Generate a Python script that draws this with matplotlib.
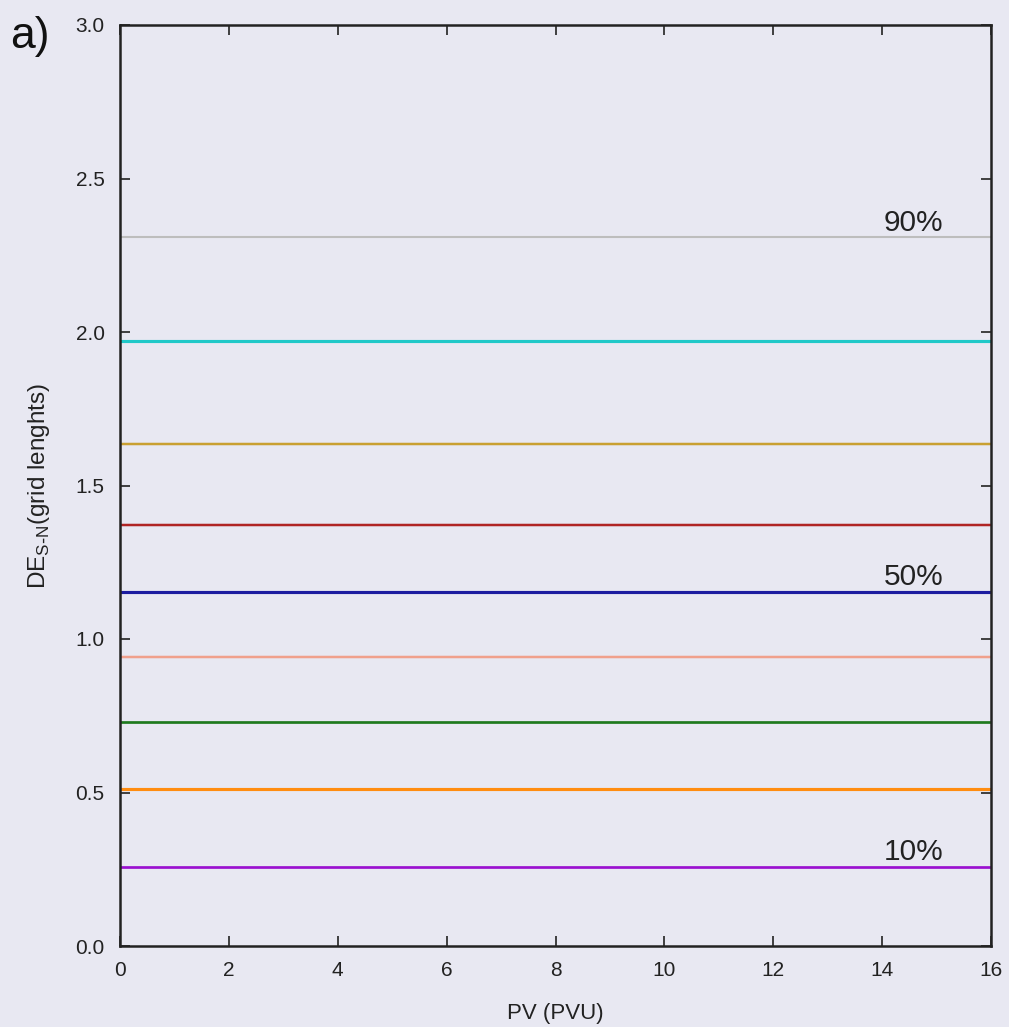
import matplotlib.pyplot as plt
import numpy as np

plt.rcParams["font.family"] = ["Liberation Sans", "DejaVu Sans"]

# percentile levels of DE_S-N, constant across PV
pv_range = [0, 16]
levels = [2.309, 1.971, 1.635, 1.371, 1.153, 0.941, 0.730, 0.511, 0.257]
colors = ["#bdbdbd", "#20c8c8", "#c9a032", "#b02424", "#1c1ca0",
          "#f0a08c", "#1e7a1e", "#ff8c10", "#9a10d0"]
widths = [2.0, 3.0, 2.4, 2.4, 3.0, 2.4, 2.6, 3.0, 2.6]
labels = {"90%": 2.309, "50%": 1.153, "10%": 0.257}

bg = "#e8e8f2"
fig = plt.figure(figsize=(10.09, 10.27), dpi=100, facecolor=bg)
ax = fig.add_axes([120 / 1009, 1 - 946 / 1027, 871 / 1009, 921 / 1027])
ax.set_facecolor(bg)

for lev, c, w in zip(levels, colors, widths):
    ax.plot(pv_range, [lev, lev], color=c, lw=w * 0.75, solid_capstyle="butt")

for txt, lev in labels.items():
    ax.text(14.58, lev + 0.002, txt, fontsize=21.5, ha="center", va="bottom",
            color="#222222")

ax.set_xlim(0, 16)
ax.set_ylim(0, 3)
ax.set_xticks(np.arange(0, 17, 2))
ax.set_yticks(np.arange(0, 3.01, 0.5))
ax.yaxis.set_major_formatter(plt.FormatStrFormatter("%.1f"))
ax.tick_params(direction="in", length=7, width=1.2, top=True, right=True,
               labelsize=15, colors="#222222", pad=11)
for s in ax.spines.values():
    s.set_linewidth(1.8)
    s.set_color("#222222")

ax.set_xlabel("PV (PVU)", fontsize=16, labelpad=16, color="#222222")
ax.set_ylabel(r"DE$_{\mathregular{S\text{-}N}}$(grid lenghts)", fontsize=17.5,
              labelpad=17, color="#222222")

fig.text(10 / 1009, 1 - 48 / 1027, "a)", fontsize=32, va="baseline",
         color="#111111")

fig.savefig("out.png", dpi=100, facecolor=bg)
